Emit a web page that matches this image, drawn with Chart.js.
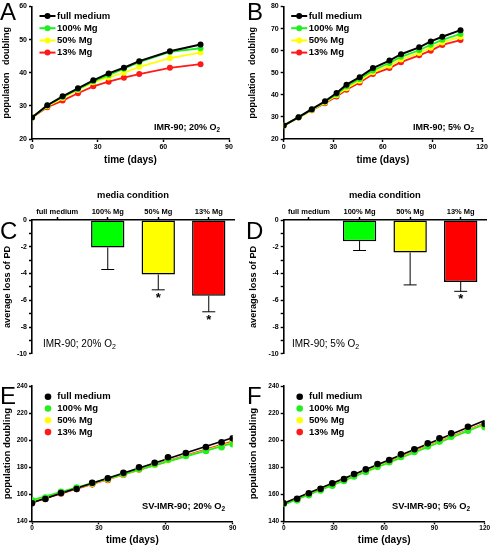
<!DOCTYPE html>
<html lang="en">
<head>
<meta charset="UTF-8">
<title>Mg restriction and population doubling</title>
<script src="https://cdn.jsdelivr.net/npm/chart.js@4.4.1/dist/chart.umd.min.js"></script>
<style>
  body { margin: 0; background: #fff; }
  #fig { position: relative; width: 492px; height: 546px; overflow: hidden; font-family: 'Liberation Sans', Arial, sans-serif; }
  #fig canvas { position: absolute; }
  .letter { position: absolute; font-size: 24px; line-height: 24px; }
  .note { position: absolute; font-size: 9px; font-weight: bold; line-height: 10px; white-space: nowrap; }
  .note.thin { font-weight: normal; font-size: 10px; line-height: 11px; }
  .note sub { font-size: 0.7em; vertical-align: -0.3em; line-height: 0; }
</style>
</head>
<body>
<div id="fig">
  <canvas id="cA" width="246" height="180" style="left:0;top:0"></canvas>
  <canvas id="cB" width="246" height="180" style="left:246px;top:0"></canvas>
  <canvas id="cC" width="246" height="180" style="left:0;top:180px"></canvas>
  <canvas id="cD" width="246" height="180" style="left:246px;top:180px"></canvas>
  <canvas id="cE" width="246" height="180" style="left:0;top:366px"></canvas>
  <canvas id="cF" width="246" height="180" style="left:246px;top:366px"></canvas>

  <div class="letter" style="left:0;top:0">A</div>
  <div class="letter" style="left:247px;top:0">B</div>
  <div class="letter" style="left:0;top:219px">C</div>
  <div class="letter" style="left:246px;top:219px">D</div>
  <div class="letter" style="left:0;top:384px">E</div>
  <div class="letter" style="left:247px;top:384px">F</div>

  <div class="note" style="left:154px;top:122px">IMR-90; 20% O<sub>2</sub></div>
  <div class="note" style="left:413px;top:122px">IMR-90; 5% O<sub>2</sub></div>
  <div class="note thin" style="left:43px;top:338px">IMR-90; 20% O<sub>2</sub></div>
  <div class="note thin" style="left:292px;top:338px">IMR-90; 5% O<sub>2</sub></div>
  <div class="note" style="left:142px;top:501px;font-size:9.3px">SV-IMR-90; 20% O<sub>2</sub></div>
  <div class="note" style="left:392px;top:501px;font-size:9.3px">SV-IMR-90; 5% O<sub>2</sub></div>
</div>
<script>
const FONT = "'Liberation Sans', Arial, sans-serif";
const seriesNames = ['full medium', '100% Mg', '50% Mg', '13% Mg'];
const seriesColors = ['#000000', '#22ee22', '#ffff00', '#ff1a1a'];

// A: IMR-90, 20% O2
const daysA = [0, 7, 14, 21, 28, 35, 42, 49, 63, 77];
const fullA = [26.5, 30.2, 32.9, 35.3, 37.7, 39.8, 41.5, 43.5, 46.5, 48.5];
const mg100A = [26.5, 30.1, 32.7, 35.0, 37.4, 39.3, 41.2, 43.2, 46.3, 47.4];
const mg50A = [26.5, 29.9, 32.4, 34.8, 37.1, 38.6, 40.0, 41.8, 44.4, 46.1];
const mg13A = [26.5, 29.6, 31.6, 33.8, 35.9, 37.3, 38.5, 39.6, 41.5, 42.6];

// B: IMR-90, 5% O2
const daysB = [0, 9, 17, 25, 32, 38, 46, 54, 64, 71, 82, 89, 96, 107];
const fullB = [26.1, 29.9, 33.5, 37.1, 40.8, 44.6, 48.0, 52.1, 55.5, 58.4, 61.5, 64.2, 66.3, 69.3];
const mg100B = [26.1, 29.8, 33.4, 36.9, 40.3, 43.8, 47.2, 51.0, 54.4, 57.2, 60.2, 62.7, 64.9, 67.6];
const mg50B = [26.1, 29.7, 33.2, 36.5, 39.8, 43.0, 46.4, 50.2, 53.2, 56.0, 59.0, 61.3, 63.7, 66.2];
const mg13B = [26.1, 29.7, 33.0, 36.2, 39.2, 42.3, 45.6, 49.4, 52.1, 54.8, 57.9, 60.0, 62.6, 64.8];

// C, D: average loss of PD
const conditions = ['full medium', '100% Mg', '50% Mg', '13% Mg'];
const barColors = ['#000000', '#00ff00', '#ffff00', '#ff0000'];
const lossC = [0, -2.05, -4.07, -5.66];
const errC = [0, 1.65, 1.15, 1.2];
const sigC = [false, false, true, true];
const lossD = [0, -1.58, -2.43, -4.63];
const errD = [0, 0.7, 2.42, 0.7];
const sigD = [false, false, false, true];

// E: SV-IMR-90, 20% O2
const daysE = [0, 6, 13, 20, 27, 34, 41, 48, 55, 61, 69, 78, 85, 90];
const fullE = [153.3, 156.5, 160.9, 163.9, 168.5, 171.8, 175.9, 179.9, 183.3, 187.3, 190.5, 194.9, 198.4, 201.3];
const mg100E = [155.5, 157.5, 161.8, 165.0, 168.2, 171.5, 175.0, 178.6, 182.0, 185.5, 188.3, 192.0, 194.7, 197.0];
const mg50E = [154.8, 157.0, 161.0, 164.3, 167.8, 171.0, 174.7, 178.4, 181.8, 185.2, 188.5, 192.3, 195.5, 198.0];
const mg13E = [154.2, 156.8, 160.6, 164.0, 167.3, 170.6, 174.4, 178.2, 182.0, 185.6, 188.8, 192.6, 196.0, 199.0];

// F: SV-IMR-90, 5% O2
const daysF = [0, 8, 15, 22, 29, 36, 42, 49, 56, 63, 70, 78, 86, 93, 100, 110, 120];
const fullF = [153.3, 156.7, 160.7, 164.1, 168.1, 171.3, 175.0, 178.4, 182.4, 185.3, 189.5, 193.2, 197.6, 201.3, 205.0, 209.9, 211.9];
const mg100F = [152.8, 155.5, 159.3, 162.8, 166.3, 169.8, 173.2, 176.5, 180.3, 183.6, 187.5, 191.3, 195.3, 198.9, 202.5, 207.0, 209.6];
const mg50F = [153.0, 155.8, 159.6, 163.1, 166.6, 170.1, 173.5, 176.8, 180.6, 183.9, 187.8, 191.6, 195.6, 199.2, 202.8, 207.3, 209.9];
const mg13F = [153.1, 156.0, 159.9, 163.4, 166.9, 170.4, 173.8, 177.1, 180.9, 184.2, 188.1, 191.9, 195.9, 199.5, 203.1, 207.6, 210.2];

Chart.defaults.font.family = FONT;
Chart.defaults.color = '#000';
Chart.defaults.animation = false;
Chart.defaults.responsive = false;
Chart.defaults.plugins.legend.display = false;
Chart.defaults.plugins.tooltip.enabled = false;

// legend drawn inside the plot area, one item per row
const panelLegend = {
  id: 'panelLegend',
  afterDraw(chart, args, o) {
    if (!o.show) return;
    const ctx = chart.ctx, a = chart.chartArea;
    ctx.save();
    ctx.font = 'bold 9.5px ' + FONT;
    ctx.textBaseline = 'middle';
    for (let i = 0; i < seriesNames.length; i++) {
      const ds = chart.data.datasets[i];
      const y = a.top + o.top + i * o.dy;
      if (o.lines) {
        ctx.strokeStyle = ds.borderColor;
        ctx.lineWidth = 2;
        ctx.beginPath();
        ctx.moveTo(a.left + o.lineX, y);
        ctx.lineTo(a.left + o.lineX + o.lineW, y);
        ctx.stroke();
      }
      ctx.fillStyle = ds.backgroundColor;
      ctx.beginPath();
      ctx.arc(a.left + o.dotX, y, o.r, 0, Math.PI * 2);
      ctx.fill();
      ctx.fillStyle = '#000';
      ctx.fillText(ds.label, a.left + o.textX, y);
    }
    ctx.restore();
  }
};

// error bars (downwards) and significance stars for the bar panels
const errorBars = {
  id: 'errorBars',
  afterDatasetsDraw(chart, args, o) {
    if (!o.err) return;
    const ctx = chart.ctx, yScale = chart.scales.y;
    const vals = chart.data.datasets[0].data;
    ctx.save();
    chart.getDatasetMeta(0).data.forEach((bar, i) => {
      if (!o.err[i]) return;
      const y0 = yScale.getPixelForValue(vals[i]);
      const y1 = yScale.getPixelForValue(vals[i] - o.err[i]);
      ctx.strokeStyle = '#000';
      ctx.lineWidth = 1;
      ctx.beginPath();
      ctx.moveTo(bar.x, y0);
      ctx.lineTo(bar.x, y1);
      ctx.moveTo(bar.x - 6.5, y1);
      ctx.lineTo(bar.x + 6.5, y1);
      ctx.stroke();
      if (o.sig[i]) {
        ctx.fillStyle = '#000';
        ctx.font = 'bold 13px ' + FONT;
        ctx.textAlign = 'center';
        ctx.textBaseline = 'top';
        ctx.fillText('*', bar.x, y1 + 2);
      }
    });
    ctx.restore();
  }
};

Chart.register(panelLegend, errorBars);

function numAxis(o) {
  const ticks = {
    stepSize: o.step, autoSkip: false, maxRotation: 0, padding: o.pad,
    color: '#000', font: { size: o.tickSize, weight: 'bold' }
  };
  if (o.cb) ticks.callback = o.cb;
  return {
    type: 'linear', position: o.pos, min: o.min, max: o.max,
    afterFit: s => { if (o.pos === 'left') s.width = o.size; else s.height = o.size; },
    border: { color: '#000', width: 1.6 },
    grid: { drawOnChartArea: false, drawTicks: true, tickLength: 3, tickWidth: 1.4, color: '#000' },
    ticks: ticks,
    title: { display: true, text: o.title, color: '#000', font: { size: o.titleSize, weight: 'bold' }, padding: o.titlePad }
  };
}

function xy(xs, ys) {
  return xs.map((x, i) => ({ x: x, y: ys[i] }));
}

function fitLine(xs, ys) {
  const n = xs.length;
  const mx = xs.reduce((s, v) => s + v, 0) / n;
  const my = ys.reduce((s, v) => s + v, 0) / n;
  let sxy = 0, sxx = 0;
  for (let i = 0; i < n; i++) {
    sxy += (xs[i] - mx) * (ys[i] - my);
    sxx += (xs[i] - mx) * (xs[i] - mx);
  }
  const b = sxy / sxx, a = my - b * mx;
  return [{ x: xs[0], y: a + b * xs[0] }, { x: xs[n - 1], y: a + b * xs[n - 1] }];
}

function growthChart(id, days, series, xMax, yMin, yMax, leftW, padRight) {
  new Chart(document.getElementById(id), {
    type: 'scatter',
    data: {
      datasets: series.map((ys, i) => ({
        label: seriesNames[i],
        data: xy(days, ys),
        showLine: true,
        borderColor: seriesColors[i],
        backgroundColor: seriesColors[i],
        borderWidth: i === 0 ? 2 : 1.8,
        pointRadius: 3,
        pointBorderWidth: 0
      }))
    },
    options: {
      layout: { padding: { left: 0, top: 6.5, right: padRight, bottom: 14 } },
      scales: {
        x: numAxis({ pos: 'bottom', min: 0, max: xMax, step: 30, size: 27, pad: 0.5, tickSize: 7,
          title: 'time (days)', titleSize: 10, titlePad: { top: 0, bottom: 0 } }),
        y: numAxis({ pos: 'left', min: yMin, max: yMax, step: 10, size: leftW, pad: 2, tickSize: 7,
          title: 'population   doubling', titleSize: 9, titlePad: { top: 1.6, bottom: 0 } })
      },
      plugins: {
        panelLegend: { show: true, lines: true, top: 9.5, dy: 12.2, lineX: 7.5, lineW: 16, dotX: 15.5, r: 3, textX: 25 }
      }
    }
  });
}

function lossChart(id, values, errs, sigs, leftW, padRight) {
  new Chart(document.getElementById(id), {
    type: 'bar',
    data: {
      labels: conditions,
      datasets: [{
        data: values,
        backgroundColor: barColors,
        borderColor: '#000',
        borderWidth: 1.5,
        borderSkipped: false,
        categoryPercentage: 1,
        barPercentage: 0.66
      }]
    },
    options: {
      layout: { padding: { left: 0, top: 0, right: padRight, bottom: 6 } },
      scales: {
        x: {
          type: 'category', position: 'top', offset: true,
          afterFit: s => { s.height = 40; },
          border: { color: '#000', width: 1.6 },
          grid: { offset: false, drawOnChartArea: false, tickLength: 3, tickWidth: 1.4, color: '#000' },
          ticks: { autoSkip: false, maxRotation: 0, padding: 0.5, color: '#000', font: { size: 7.5, weight: 'bold' } },
          title: { display: true, text: 'media condition', color: '#000', font: { size: 9.4, weight: 'bold' }, padding: { top: 9.4, bottom: 0 } }
        },
        y: numAxis({ pos: 'left', min: -10, max: 0, step: 1, size: leftW, pad: 2, tickSize: 7,
          cb: v => (v % 2 === 0 ? String(v) : ''),
          title: 'average loss of PD', titleSize: 9.2, titlePad: { top: 1.8, bottom: 0 } })
      },
      plugins: { errorBars: { err: errs, sig: sigs } }
    }
  });
}

function cultureChart(id, days, series, xMax, leftW, padRight) {
  const points = series.map((ys, i) => ({
    label: seriesNames[i],
    data: xy(days, ys),
    showLine: false,
    backgroundColor: seriesColors[i],
    borderColor: seriesColors[i],
    pointRadius: 3.3,
    pointBorderWidth: 0
  }));
  const fits = series.map((ys, i) => ({
    label: seriesNames[i] + ' fit',
    data: fitLine(days, ys),
    showLine: true,
    borderColor: seriesColors[i],
    borderWidth: i === 0 ? 1.6 : 1.8,
    pointRadius: 0
  }));
  new Chart(document.getElementById(id), {
    type: 'scatter',
    data: { datasets: points.concat(fits) },
    options: {
      layout: { padding: { left: 0, top: 20, right: padRight, bottom: 0 } },
      scales: {
        x: numAxis({ pos: 'bottom', min: 0, max: xMax, step: 30, size: 24.7, pad: 0, tickSize: 6.5,
          title: 'time (days)', titleSize: 10, titlePad: { top: 0, bottom: 0 } }),
        y: numAxis({ pos: 'left', min: 140, max: 240, step: 20, size: leftW, pad: 1.5, tickSize: 6.5,
          title: 'population doubling', titleSize: 9.5, titlePad: { top: 1.5, bottom: 0 } })
      },
      plugins: {
        panelLegend: { show: true, lines: false, top: 10.7, dy: 11.8, dotX: 16, r: 3.3, textX: 25.3 }
      }
    }
  });
}

growthChart('cA', daysA, [fullA, mg100A, mg50A, mg13A], 90, 20, 60, 32, 17);
growthChart('cB', daysB, [fullB, mg100B, mg50B, mg13B], 120, 20, 80, 37.7, 10);
lossChart('cC', lossC, errC, sigC, 32, 12);
lossChart('cD', lossD, errD, sigD, 37.7, 6);
cultureChart('cE', daysE, [fullE, mg100E, mg50E, mg13E], 90, 32, 13.3);
cultureChart('cF', daysF, [fullF, mg100F, mg50F, mg13F], 120, 37.7, 7.3);
</script>
</body>
</html>
